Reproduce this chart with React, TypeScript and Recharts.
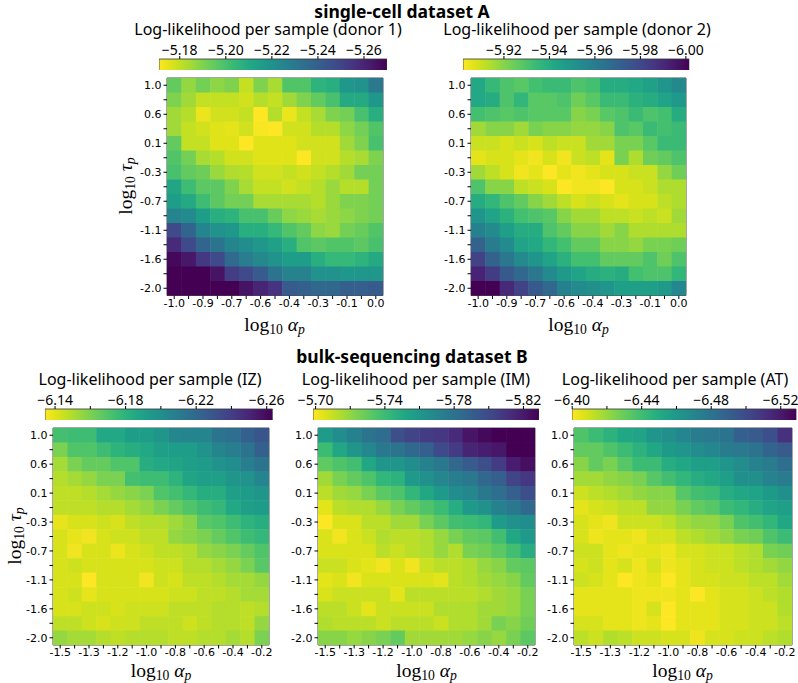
import React from 'react';
import { ScatterChart, Scatter, XAxis, YAxis, ReferenceArea, BarChart, Bar } from 'recharts';

// tick labels (every second cell carries a label)
const topAlphaLabels = ['-1.0', '-0.9', '-0.7', '-0.6', '-0.4', '-0.3', '-0.1', '0.0'];
const bottomAlphaLabels = ['-1.5', '-1.3', '-1.2', '-1.0', '-0.8', '-0.6', '-0.4', '-0.2'];
const tauLabels = ['1.0', '0.6', '0.1', '-0.3', '-0.7', '-1.1', '-1.6', '-2.0'];

// log-likelihood per sample, rows = tau (1.0 -> -2.0), cols = alpha (low -> high)
const donor1 = [
  [-5.195, -5.187, -5.192, -5.188, -5.19, -5.18, -5.19, -5.184, -5.198, -5.198, -5.206, -5.208, -5.218, -5.22, -5.23],
  [-5.19, -5.185, -5.18, -5.18, -5.18, -5.178, -5.182, -5.18, -5.185, -5.19, -5.195, -5.2, -5.21, -5.21, -5.218],
  [-5.185, -5.182, -5.174, -5.178, -5.178, -5.18, -5.17, -5.182, -5.174, -5.18, -5.184, -5.19, -5.192, -5.2, -5.208],
  [-5.185, -5.18, -5.178, -5.176, -5.175, -5.178, -5.172, -5.17, -5.178, -5.178, -5.182, -5.182, -5.188, -5.192, -5.198],
  [-5.195, -5.18, -5.18, -5.176, -5.176, -5.17, -5.176, -5.176, -5.176, -5.178, -5.178, -5.178, -5.185, -5.19, -5.2],
  [-5.198, -5.192, -5.184, -5.182, -5.178, -5.178, -5.176, -5.176, -5.176, -5.17, -5.178, -5.178, -5.182, -5.184, -5.19],
  [-5.2, -5.195, -5.193, -5.186, -5.183, -5.182, -5.178, -5.178, -5.18, -5.178, -5.18, -5.182, -5.185, -5.192, -5.192],
  [-5.212, -5.202, -5.196, -5.196, -5.19, -5.184, -5.18, -5.18, -5.178, -5.18, -5.182, -5.186, -5.182, -5.182, -5.192],
  [-5.215, -5.21, -5.202, -5.196, -5.192, -5.192, -5.184, -5.184, -5.184, -5.184, -5.182, -5.186, -5.19, -5.19, -5.192],
  [-5.225, -5.223, -5.215, -5.208, -5.206, -5.2, -5.2, -5.194, -5.188, -5.186, -5.184, -5.186, -5.188, -5.19, -5.192],
  [-5.248, -5.238, -5.225, -5.22, -5.218, -5.208, -5.208, -5.204, -5.198, -5.195, -5.188, -5.186, -5.192, -5.194, -5.198],
  [-5.258, -5.248, -5.238, -5.232, -5.225, -5.222, -5.218, -5.214, -5.208, -5.198, -5.196, -5.198, -5.198, -5.196, -5.2],
  [-5.268, -5.264, -5.254, -5.248, -5.236, -5.228, -5.224, -5.22, -5.215, -5.215, -5.208, -5.204, -5.204, -5.206, -5.21],
  [-5.28, -5.276, -5.272, -5.265, -5.252, -5.248, -5.242, -5.232, -5.226, -5.226, -5.22, -5.22, -5.218, -5.218, -5.218],
  [-5.3, -5.295, -5.29, -5.285, -5.278, -5.265, -5.26, -5.255, -5.242, -5.24, -5.237, -5.237, -5.24, -5.24, -5.242],
];

const donor2 = [
  [-5.942, -5.935, -5.93, -5.928, -5.932, -5.934, -5.934, -5.93, -5.932, -5.94, -5.94, -5.942, -5.945, -5.95, -5.955],
  [-5.942, -5.94, -5.93, -5.936, -5.928, -5.928, -5.93, -5.924, -5.928, -5.934, -5.934, -5.938, -5.94, -5.944, -5.948],
  [-5.932, -5.93, -5.928, -5.93, -5.928, -5.928, -5.928, -5.92, -5.922, -5.928, -5.93, -5.934, -5.93, -5.932, -5.94],
  [-5.916, -5.92, -5.92, -5.916, -5.922, -5.92, -5.92, -5.918, -5.918, -5.92, -5.93, -5.928, -5.934, -5.932, -5.934],
  [-5.91, -5.91, -5.908, -5.91, -5.908, -5.912, -5.91, -5.91, -5.916, -5.916, -5.922, -5.922, -5.928, -5.934, -5.934],
  [-5.906, -5.908, -5.908, -5.906, -5.904, -5.908, -5.904, -5.91, -5.912, -5.906, -5.922, -5.914, -5.924, -5.926, -5.93],
  [-5.916, -5.912, -5.908, -5.904, -5.906, -5.9, -5.906, -5.904, -5.906, -5.908, -5.908, -5.91, -5.91, -5.918, -5.924],
  [-5.93, -5.92, -5.92, -5.912, -5.91, -5.908, -5.9, -5.904, -5.904, -5.9, -5.908, -5.908, -5.91, -5.914, -5.914],
  [-5.94, -5.936, -5.93, -5.926, -5.92, -5.916, -5.912, -5.908, -5.91, -5.908, -5.906, -5.908, -5.908, -5.912, -5.914],
  [-5.95, -5.944, -5.938, -5.932, -5.93, -5.928, -5.92, -5.916, -5.916, -5.912, -5.912, -5.91, -5.912, -5.91, -5.916],
  [-5.958, -5.954, -5.946, -5.94, -5.94, -5.93, -5.926, -5.92, -5.92, -5.916, -5.92, -5.914, -5.914, -5.914, -5.914],
  [-5.97, -5.96, -5.954, -5.944, -5.942, -5.936, -5.932, -5.926, -5.926, -5.92, -5.92, -5.918, -5.922, -5.922, -5.924],
  [-5.982, -5.97, -5.962, -5.954, -5.95, -5.944, -5.938, -5.932, -5.932, -5.926, -5.926, -5.926, -5.93, -5.924, -5.93],
  [-5.992, -5.984, -5.974, -5.968, -5.962, -5.954, -5.948, -5.944, -5.94, -5.938, -5.94, -5.932, -5.93, -5.93, -5.936],
  [-6.004, -6.002, -5.99, -5.982, -5.974, -5.968, -5.958, -5.954, -5.952, -5.95, -5.946, -5.946, -5.946, -5.948, -5.956],
];

const sampleIZ = [
  [-6.173, -6.175, -6.175, -6.186, -6.186, -6.192, -6.192, -6.196, -6.204, -6.205, -6.205, -6.214, -6.217, -6.224, -6.229],
  [-6.16, -6.17, -6.17, -6.175, -6.18, -6.183, -6.186, -6.191, -6.192, -6.192, -6.198, -6.205, -6.209, -6.214, -6.224],
  [-6.152, -6.16, -6.165, -6.165, -6.17, -6.17, -6.183, -6.186, -6.188, -6.191, -6.193, -6.198, -6.201, -6.209, -6.214],
  [-6.149, -6.152, -6.155, -6.16, -6.16, -6.173, -6.175, -6.175, -6.18, -6.188, -6.191, -6.191, -6.196, -6.198, -6.205],
  [-6.147, -6.147, -6.149, -6.152, -6.155, -6.157, -6.16, -6.17, -6.173, -6.178, -6.183, -6.183, -6.191, -6.193, -6.196],
  [-6.147, -6.147, -6.147, -6.149, -6.149, -6.152, -6.155, -6.16, -6.165, -6.17, -6.175, -6.178, -6.186, -6.191, -6.193],
  [-6.139, -6.142, -6.142, -6.144, -6.142, -6.147, -6.149, -6.149, -6.153, -6.157, -6.168, -6.17, -6.175, -6.18, -6.183],
  [-6.142, -6.139, -6.137, -6.142, -6.144, -6.144, -6.147, -6.147, -6.155, -6.157, -6.16, -6.165, -6.17, -6.175, -6.178],
  [-6.142, -6.137, -6.142, -6.142, -6.138, -6.142, -6.144, -6.147, -6.147, -6.149, -6.155, -6.157, -6.16, -6.165, -6.17],
  [-6.142, -6.144, -6.142, -6.142, -6.142, -6.142, -6.142, -6.144, -6.144, -6.149, -6.149, -6.152, -6.155, -6.16, -6.168],
  [-6.142, -6.142, -6.134, -6.142, -6.142, -6.142, -6.137, -6.144, -6.142, -6.147, -6.147, -6.149, -6.152, -6.152, -6.155],
  [-6.142, -6.144, -6.139, -6.142, -6.142, -6.142, -6.142, -6.142, -6.144, -6.144, -6.147, -6.147, -6.149, -6.152, -6.152],
  [-6.142, -6.142, -6.144, -6.144, -6.142, -6.144, -6.144, -6.144, -6.147, -6.147, -6.147, -6.149, -6.149, -6.147, -6.149],
  [-6.147, -6.147, -6.144, -6.142, -6.144, -6.144, -6.147, -6.147, -6.147, -6.144, -6.147, -6.149, -6.149, -6.147, -6.155],
  [-6.155, -6.152, -6.152, -6.149, -6.147, -6.149, -6.149, -6.149, -6.147, -6.147, -6.149, -6.149, -6.152, -6.149, -6.16],
];

const sampleIM = [
  [-5.757, -5.766, -5.772, -5.779, -5.783, -5.798, -5.803, -5.806, -5.808, -5.813, -5.822, -5.826, -5.832, -5.836, -5.838],
  [-5.74, -5.751, -5.761, -5.769, -5.777, -5.779, -5.785, -5.79, -5.8, -5.806, -5.816, -5.819, -5.821, -5.83, -5.834],
  [-5.731, -5.735, -5.738, -5.751, -5.761, -5.761, -5.766, -5.772, -5.777, -5.785, -5.792, -5.798, -5.806, -5.819, -5.824],
  [-5.717, -5.725, -5.73, -5.735, -5.743, -5.745, -5.759, -5.764, -5.769, -5.774, -5.777, -5.785, -5.79, -5.803, -5.808],
  [-5.712, -5.717, -5.719, -5.725, -5.732, -5.735, -5.743, -5.751, -5.759, -5.766, -5.769, -5.777, -5.782, -5.79, -5.798],
  [-5.704, -5.712, -5.714, -5.714, -5.719, -5.725, -5.73, -5.735, -5.74, -5.748, -5.759, -5.764, -5.772, -5.777, -5.785],
  [-5.699, -5.706, -5.706, -5.712, -5.712, -5.717, -5.717, -5.725, -5.732, -5.738, -5.74, -5.743, -5.757, -5.764, -5.766],
  [-5.706, -5.701, -5.706, -5.709, -5.714, -5.712, -5.712, -5.714, -5.719, -5.725, -5.73, -5.732, -5.738, -5.751, -5.759],
  [-5.706, -5.706, -5.706, -5.706, -5.712, -5.709, -5.712, -5.714, -5.719, -5.714, -5.725, -5.727, -5.732, -5.738, -5.748],
  [-5.709, -5.709, -5.706, -5.704, -5.701, -5.706, -5.701, -5.709, -5.712, -5.712, -5.714, -5.719, -5.722, -5.73, -5.732],
  [-5.704, -5.706, -5.701, -5.706, -5.706, -5.706, -5.706, -5.706, -5.704, -5.712, -5.714, -5.717, -5.719, -5.722, -5.73],
  [-5.706, -5.709, -5.709, -5.709, -5.709, -5.704, -5.712, -5.712, -5.712, -5.712, -5.712, -5.714, -5.717, -5.719, -5.725],
  [-5.712, -5.712, -5.709, -5.704, -5.709, -5.709, -5.709, -5.709, -5.714, -5.714, -5.714, -5.717, -5.717, -5.719, -5.725],
  [-5.714, -5.712, -5.712, -5.712, -5.709, -5.712, -5.712, -5.712, -5.709, -5.714, -5.714, -5.717, -5.725, -5.722, -5.727],
  [-5.722, -5.722, -5.719, -5.722, -5.725, -5.73, -5.717, -5.717, -5.717, -5.717, -5.719, -5.722, -5.719, -5.725, -5.732],
];

const sampleAT = [
  [-6.436, -6.441, -6.446, -6.452, -6.454, -6.462, -6.465, -6.47, -6.475, -6.477, -6.48, -6.49, -6.493, -6.498, -6.511],
  [-6.431, -6.431, -6.436, -6.441, -6.446, -6.452, -6.459, -6.462, -6.467, -6.47, -6.475, -6.477, -6.48, -6.488, -6.493],
  [-6.423, -6.431, -6.426, -6.434, -6.441, -6.441, -6.449, -6.452, -6.457, -6.457, -6.462, -6.467, -6.472, -6.475, -6.483],
  [-6.418, -6.418, -6.421, -6.423, -6.426, -6.434, -6.439, -6.444, -6.449, -6.452, -6.457, -6.465, -6.465, -6.472, -6.475],
  [-6.41, -6.413, -6.415, -6.418, -6.421, -6.423, -6.423, -6.434, -6.439, -6.441, -6.449, -6.452, -6.454, -6.459, -6.465],
  [-6.405, -6.408, -6.41, -6.413, -6.413, -6.421, -6.421, -6.426, -6.431, -6.434, -6.441, -6.444, -6.449, -6.454, -6.457],
  [-6.408, -6.405, -6.403, -6.41, -6.41, -6.41, -6.413, -6.418, -6.421, -6.421, -6.426, -6.436, -6.439, -6.444, -6.452],
  [-6.408, -6.403, -6.405, -6.405, -6.403, -6.408, -6.408, -6.413, -6.415, -6.418, -6.421, -6.426, -6.428, -6.436, -6.441],
  [-6.41, -6.41, -6.405, -6.403, -6.405, -6.405, -6.403, -6.408, -6.408, -6.41, -6.41, -6.413, -6.415, -6.426, -6.428],
  [-6.408, -6.41, -6.405, -6.408, -6.403, -6.408, -6.403, -6.405, -6.408, -6.41, -6.41, -6.413, -6.415, -6.418, -6.421],
  [-6.41, -6.408, -6.405, -6.4, -6.403, -6.405, -6.4, -6.405, -6.408, -6.408, -6.41, -6.41, -6.413, -6.413, -6.418],
  [-6.405, -6.405, -6.405, -6.405, -6.403, -6.403, -6.403, -6.405, -6.4, -6.405, -6.408, -6.408, -6.41, -6.413, -6.415],
  [-6.405, -6.405, -6.405, -6.405, -6.403, -6.408, -6.4, -6.405, -6.405, -6.405, -6.408, -6.408, -6.41, -6.41, -6.415],
  [-6.408, -6.408, -6.405, -6.405, -6.403, -6.405, -6.4, -6.405, -6.405, -6.405, -6.408, -6.408, -6.41, -6.41, -6.413],
  [-6.413, -6.41, -6.415, -6.413, -6.41, -6.41, -6.408, -6.408, -6.403, -6.408, -6.408, -6.41, -6.41, -6.413, -6.415],
];

// colorbar ticks
const ticksDonor1 = [-5.18, -5.2, -5.22, -5.24, -5.26];
const ticksDonor2 = [-5.92, -5.94, -5.96, -5.98, -6.0];
const ticksIZ = [-6.14, -6.16, -6.18, -6.2, -6.22, -6.24, -6.26];
const labelsIZ = [-6.14, -6.18, -6.22, -6.26];
const ticksIM = [-5.7, -5.72, -5.74, -5.76, -5.78, -5.8, -5.82];
const labelsIM = [-5.7, -5.74, -5.78, -5.82];
const ticksAT = [-6.4, -6.42, -6.44, -6.46, -6.48, -6.5, -6.52];
const labelsAT = [-6.4, -6.44, -6.48, -6.52];

const VIRIDIS = [
  '#440154', '#471365', '#482475', '#463480', '#414487', '#3b528b', '#355f8d',
  '#2f6c8e', '#2a788e', '#25848e', '#21918c', '#1e9c89', '#22a884', '#2fb47c',
  '#44bf70', '#5ec962', '#7ad151', '#9bd93c', '#bddf26', '#dfe318', '#fde725',
];

function hexRgb(h: string) {
  return [parseInt(h.slice(1, 3), 16), parseInt(h.slice(3, 5), 16), parseInt(h.slice(5, 7), 16)];
}

function viridis(t: number) {
  const c = Math.min(1, Math.max(0, t)) * 20;
  const i = Math.min(19, Math.floor(c));
  const f = c - i;
  const a = hexRgb(VIRIDIS[i]);
  const b = hexRgb(VIRIDIS[i + 1]);
  const m = a.map((v, k) => Math.round(v + (b[k] - v) * f));
  return `rgb(${m[0]},${m[1]},${m[2]})`;
}

const idx = Array.from({ length: 15 }, (_, i) => i);
const tickFont = { fill: '#000', fontSize: 11, fontFamily: 'DejaVu Sans' };

function Heatmap({ grid, hi, lo, xLabels, left, top, w, h }: any) {
  const cells = grid.flatMap((row: number[], r: number) => row.map((v, c) => ({ c, r, v })));
  const yw = 36;
  const mt = 4;
  const xh = 18;
  const cw = w / 15;
  const ch = h / 15;
  return (
    <div style={{ position: 'absolute', left: left - yw, top: top - mt }}>
      <ScatterChart width={yw + w + 6} height={mt + h + xh} margin={{ top: mt, right: 6, bottom: 0, left: 0 }}>
        <XAxis
          type="number"
          dataKey="c"
          domain={[-0.5, 14.5]}
          ticks={idx}
          interval={0}
          height={xh}
          allowDataOverflow
          axisLine={false}
          tickSize={3.5}
          tickMargin={0}
          tickLine={{ stroke: '#000' }}
          tick={tickFont}
          tickFormatter={(i: number) => (i % 2 === 0 ? xLabels[i / 2] : '')}
        />
        <YAxis
          type="number"
          dataKey="r"
          reversed
          domain={[-0.5, 14.5]}
          ticks={idx}
          interval={0}
          width={yw}
          allowDataOverflow
          axisLine={false}
          tickSize={3.5}
          tickMargin={2}
          tickLine={{ stroke: '#000' }}
          tick={tickFont}
          tickFormatter={(i: number) => (i % 2 === 0 ? tauLabels[i / 2] : '')}
        />
        <Scatter
          data={cells}
          isAnimationActive={false}
          shape={(p: any) => (
            <rect
              x={p.cx - cw / 2}
              y={p.cy - ch / 2}
              width={cw + 0.5}
              height={ch + 0.5}
              fill={viridis((p.payload.v - lo) / (hi - lo))}
            />
          )}
        />
        <ReferenceArea x1={-0.5} x2={14.5} y1={-0.5} y2={14.5} fill="none" stroke="#222" strokeWidth={0.8} ifOverflow="visible" />
      </ScatterChart>
    </div>
  );
}

const fmt = (v: number) => '\u2212' + Math.abs(v).toFixed(2);

function Colorbar({ id, hi, lo, ticks, labels, left, top, w, h }: any) {
  const m = 26;
  const ah = 22;
  const shown = labels || ticks;
  return (
    <div style={{ position: 'absolute', left: left - m, top: top - ah }}>
      <BarChart
        layout="vertical"
        width={w + 2 * m}
        height={ah + h}
        data={[{ name: id, extent: [lo, hi] }]}
        margin={{ top: 0, right: m, bottom: 0, left: m }}
        barCategoryGap={0}
      >
        <defs>
          <linearGradient id={id} x1="0" y1="0" x2="1" y2="0">
            {VIRIDIS.map((_, i) => (
              <stop key={i} offset={i / 20} stopColor={VIRIDIS[20 - i]} />
            ))}
          </linearGradient>
        </defs>
        <XAxis
          type="number"
          orientation="top"
          domain={[lo, hi]}
          reversed
          allowDataOverflow
          ticks={ticks}
          interval={0}
          height={ah}
          axisLine={false}
          tickSize={3}
          tickMargin={1}
          tickLine={{ stroke: '#000' }}
          tick={{ fill: '#000', fontSize: 14, fontFamily: 'Noto Sans' }}
          tickFormatter={(v: number) => (shown.some((l: number) => Math.abs(l - v) < 1e-6) ? fmt(v) : '')}
        />
        <YAxis type="category" dataKey="name" hide />
        <Bar dataKey="extent" fill={`url(#${id})`} stroke="#333" strokeWidth={0.8} isAnimationActive={false} />
      </BarChart>
    </div>
  );
}

const textBase: React.CSSProperties = {
  position: 'absolute',
  transform: 'translate(-50%, -50%)',
  whiteSpace: 'nowrap',
  lineHeight: 1,
  color: '#000',
};

function Title({ x, y, children }: any) {
  return <div style={{ ...textBase, left: x, top: y, fontFamily: 'Noto Sans', fontWeight: 700, fontSize: 17.5 }}>{children}</div>;
}

function CbTitle({ x, y, children }: any) {
  return <div style={{ ...textBase, left: x, top: y, fontFamily: 'Noto Sans', fontSize: 16 }}>{children}</div>;
}

const mathFont: React.CSSProperties = { fontFamily: 'Liberation Serif', fontSize: 19.5 };
const subStyle: React.CSSProperties = { fontSize: '0.7em', verticalAlign: '-2.5px', lineHeight: 0 };

function MathLabel({ x, y, sym, rotate }: any) {
  return (
    <div
      style={{
        ...textBase,
        ...mathFont,
        left: x,
        top: y,
        transform: rotate ? 'translate(-50%, -50%) rotate(-90deg)' : 'translate(-50%, -50%)',
      }}
    >
      log<span style={subStyle}>10</span>
      <span> </span>
      <i>{sym}</i>
      <span style={subStyle}>
        <i>p</i>
      </span>
    </div>
  );
}

export default function App() {
  return (
    <div style={{ position: 'absolute', left: 0, top: 0, width: 798, height: 683, background: '#fff', overflow: 'hidden' }}>
      <Title x={402} y={11.5}>single-cell dataset A</Title>
      <CbTitle x={268} y={29}>Log-likelihood per sample (donor 1)</CbTitle>
      <CbTitle x={577} y={29}>Log-likelihood per sample (donor 2)</CbTitle>
      <Colorbar id="cbD1" hi={-5.171} lo={-5.27} ticks={ticksDonor1} left={159} top={58.5} w={228} h={11.5} />
      <Colorbar id="cbD2" hi={-5.902} lo={-6.0015} ticks={ticksDonor2} left={462.7} top={58.5} w={226.3} h={11.5} />
      <Heatmap grid={donor1} hi={-5.171} lo={-5.27} xLabels={topAlphaLabels} left={166.5} top={77.7} w={216} h={217.5} />
      <Heatmap grid={donor2} hi={-5.902} lo={-6.0015} xLabels={topAlphaLabels} left={471} top={77.7} w={215} h={217.5} />
      <MathLabel x={274.5} y={325} sym="α" />
      <MathLabel x={578.5} y={325} sym="α" />
      <MathLabel x={126} y={186} sym="τ" rotate />

      <Title x={412} y={357}>bulk-sequencing dataset B</Title>
      <CbTitle x={150} y={378.5}>Log-likelihood per sample (IZ)</CbTitle>
      <CbTitle x={416} y={378.5}>Log-likelihood per sample (IM)</CbTitle>
      <CbTitle x={675} y={378.5}>Log-likelihood per sample (AT)</CbTitle>
      <Colorbar id="cbIZ" hi={-6.1343} lo={-6.2634} ticks={ticksIZ} labels={labelsIZ} left={45} top={408.5} w={227.7} h={11.5} />
      <Colorbar id="cbIM" hi={-5.6985} lo={-5.829} ticks={ticksIM} labels={labelsIM} left={312.7} top={408.5} w={226} h={11.5} />
      <Colorbar id="cbAT" hi={-6.3999} lo={-6.529} ticks={ticksAT} labels={labelsAT} left={572.3} top={408.5} w={224.4} h={11.5} />
      <Heatmap grid={sampleIZ} hi={-6.1343} lo={-6.2634} xLabels={bottomAlphaLabels} left={53} top={428} w={216} h={217} />
      <Heatmap grid={sampleIM} hi={-5.6985} lo={-5.829} xLabels={bottomAlphaLabels} left={318} top={428} w={217} h={217} />
      <Heatmap grid={sampleAT} hi={-6.3999} lo={-6.529} xLabels={bottomAlphaLabels} left={573.5} top={428} w={218} h={217} />
      <MathLabel x={161} y={670.8} sym="α" />
      <MathLabel x={426.5} y={670.8} sym="α" />
      <MathLabel x={682.5} y={670.8} sym="α" />
      <MathLabel x={15} y={536} sym="τ" rotate />
    </div>
  );
}
